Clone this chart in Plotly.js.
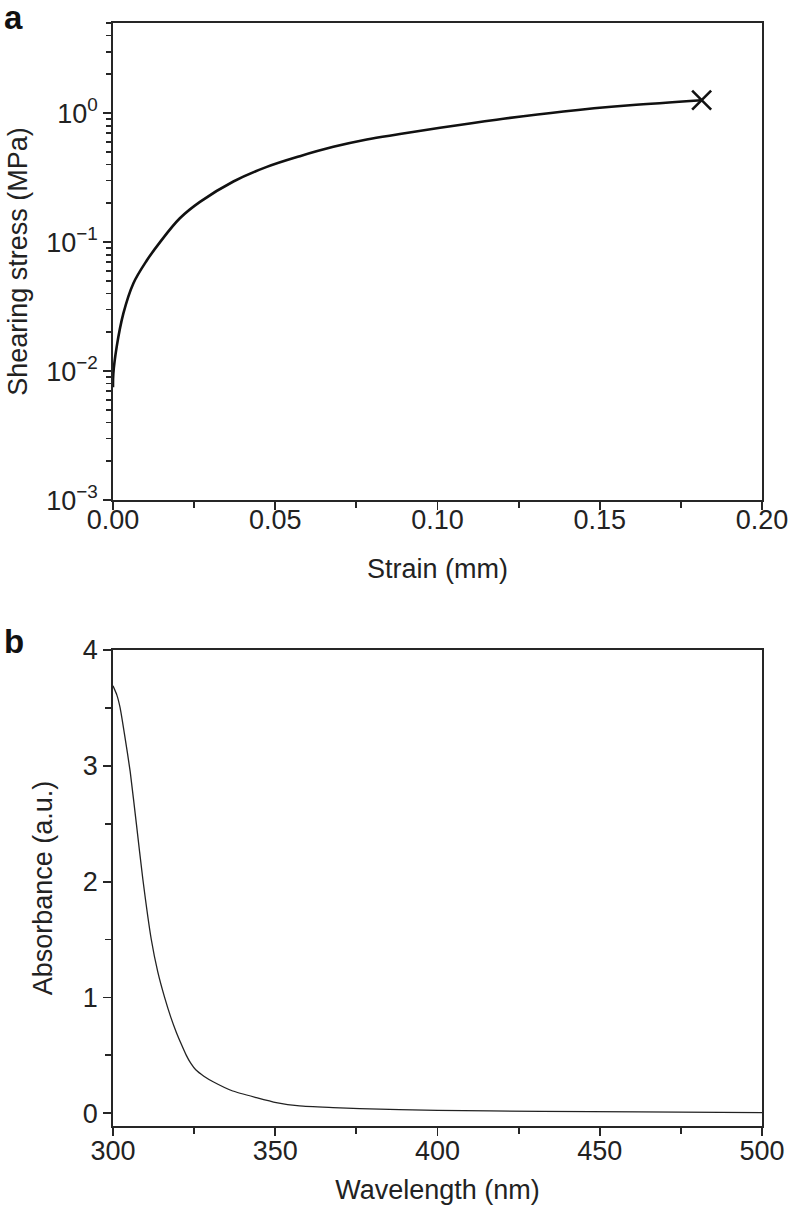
<!DOCTYPE html>
<html>
<head>
<meta charset="utf-8">
<script src="https://cdn.plot.ly/plotly-3.0.1.min.js"></script>
<style>
  html, body { margin: 0; padding: 0; background: #fff; }
  #chart { width: 788px; height: 1209px; }
</style>
</head>
<body>
<div id="chart"></div>
<script>
// Panel a: shearing stress vs strain
const strain = [0, 0.0001, 0.00113, 0.0032, 0.0063, 0.0104, 0.0145, 0.0206, 0.0268, 0.0371, 0.0474, 0.0576, 0.0679, 0.0782, 0.0884, 0.1008, 0.1182, 0.1388, 0.1593, 0.1814];
const stress = [0.0075, 0.0095, 0.0154, 0.028, 0.048, 0.072, 0.1, 0.153, 0.205, 0.295, 0.383, 0.464, 0.548, 0.625, 0.688, 0.77, 0.89, 1.03, 1.15, 1.26];
const failureStrain = [0.1814];
const failureStress = [1.26];

// Panel b: absorbance spectrum
const wavelength = [300, 301.2, 302.2, 303.5, 305.3, 307.2, 309.2, 311.8, 313.8, 315.9, 317.8, 319.5, 321, 322.6, 324, 325.5, 328, 331, 336.9, 344.2, 350.3, 357.5, 367.8, 376, 400, 432, 462, 500];
const absorbance = [3.69, 3.61, 3.5, 3.28, 2.95, 2.5, 2.02, 1.5, 1.22, 1.0, 0.83, 0.70, 0.60, 0.50, 0.43, 0.375, 0.32, 0.27, 0.192, 0.135, 0.092, 0.063, 0.049, 0.04, 0.025, 0.016, 0.012, 0.006];

// Tick labels
const logTickVals = [0.001, 0.01, 0.1, 1];
const logTickText = ['10<sup>\u22123</sup>', '10<sup>\u22122</sup>', '10<sup>\u22121</sup>', '10<sup>0</sup>'];
const minorMultipliers = [2, 3, 4, 5, 6, 7, 8, 9];

const minorLogVals = [];
logTickVals.forEach(d => minorMultipliers.forEach(m => { if (d * m <= 5) minorLogVals.push(d * m); }));

const FONT = 'Liberation Sans, Arial, Helvetica, sans-serif';
const AX = '#262626';
const tickFont = {family: FONT, size: 27, color: '#222'};
const titleFont = {family: FONT, size: 27, color: '#222'};

const traces = [
  {x: strain, y: stress, xaxis: 'x', yaxis: 'y', mode: 'lines', type: 'scatter',
   line: {color: '#111', width: 2.6, shape: 'spline', smoothing: 1}, hoverinfo: 'skip'},
  {x: failureStrain, y: failureStress, xaxis: 'x', yaxis: 'y', mode: 'markers', type: 'scatter',
   marker: {symbol: 'x-thin-open', size: 19, color: '#111', line: {width: 2.6, color: '#111'}}, hoverinfo: 'skip'},
  {x: wavelength, y: absorbance, xaxis: 'x2', yaxis: 'y2', mode: 'lines', type: 'scatter',
   line: {color: '#222', width: 1.3, shape: 'spline', smoothing: 0.5}, hoverinfo: 'skip'}
];

const commonAxis = {
  showline: true, mirror: true, linecolor: AX, linewidth: 1.8,
  ticks: 'outside', ticklen: 8, tickwidth: 1.8, tickcolor: AX,
  showgrid: false, zeroline: false, tickfont: tickFont,
  ticklabeloverflow: 'allow'
};

const layout = {
  width: 788, height: 1209,
  margin: {l: 113, r: 26, t: 23, b: 83},
  paper_bgcolor: '#fff', plot_bgcolor: '#fff',
  showlegend: false,
  xaxis: Object.assign({}, commonAxis, {
    domain: [0, 1], anchor: 'y', range: [0, 0.2],
    tickmode: 'linear', tick0: 0, dtick: 0.05, tickformat: '.2f',
    ticklabelstandoff: -13,
    minor: {dtick: 0.025, ticks: 'outside', ticklen: 6, tickwidth: 1.8, tickcolor: AX},
    title: {text: 'Strain (mm)', font: titleFont, standoff: 25}
  }),
  yaxis: Object.assign({}, commonAxis, {
    domain: [0.5675, 1], anchor: 'x', type: 'log', range: [-3, Math.log10(5)],
    tickmode: 'array', tickvals: logTickVals, ticktext: logTickText,
    minor: {tickmode: 'array', tickvals: minorLogVals, ticks: 'outside', ticklen: 5, tickwidth: 1.8, tickcolor: AX},
    title: {text: 'Shearing stress (MPa)', font: titleFont, standoff: 11}
  }),
  xaxis2: Object.assign({}, commonAxis, {
    domain: [0, 1], anchor: 'y2', range: [300, 500],
    tickmode: 'linear', tick0: 300, dtick: 50,
    ticklabelstandoff: -8,
    minor: {dtick: 25, ticks: 'outside', ticklen: 6, tickwidth: 1.8, tickcolor: AX},
    title: {text: 'Wavelength (nm)', font: titleFont, standoff: 15}
  }),
  yaxis2: Object.assign({}, commonAxis, {
    domain: [0, 0.4316], anchor: 'x2', range: [-0.11, 4],
    tickmode: 'linear', tick0: 0, dtick: 1,
    minor: {dtick: 0.5, ticks: 'outside', ticklen: 6, tickwidth: 1.8, tickcolor: AX},
    title: {text: 'Absorbance (a.u.)', font: titleFont, standoff: 22}
  }),
  annotations: [
    {text: '<b>a</b>', xref: 'paper', yref: 'paper', x: -0.171, y: 1.024, xanchor: 'left', yanchor: 'top',
     showarrow: false, font: {family: FONT, size: 33, color: '#111'}},
    {text: '<b>b</b>', xref: 'paper', yref: 'paper', x: -0.171, y: 0.458, xanchor: 'left', yanchor: 'top',
     showarrow: false, font: {family: FONT, size: 33, color: '#111'}}
  ]
};

Plotly.newPlot('chart', traces, layout, {staticPlot: true, displayModeBar: false});
</script>
</body>
</html>
